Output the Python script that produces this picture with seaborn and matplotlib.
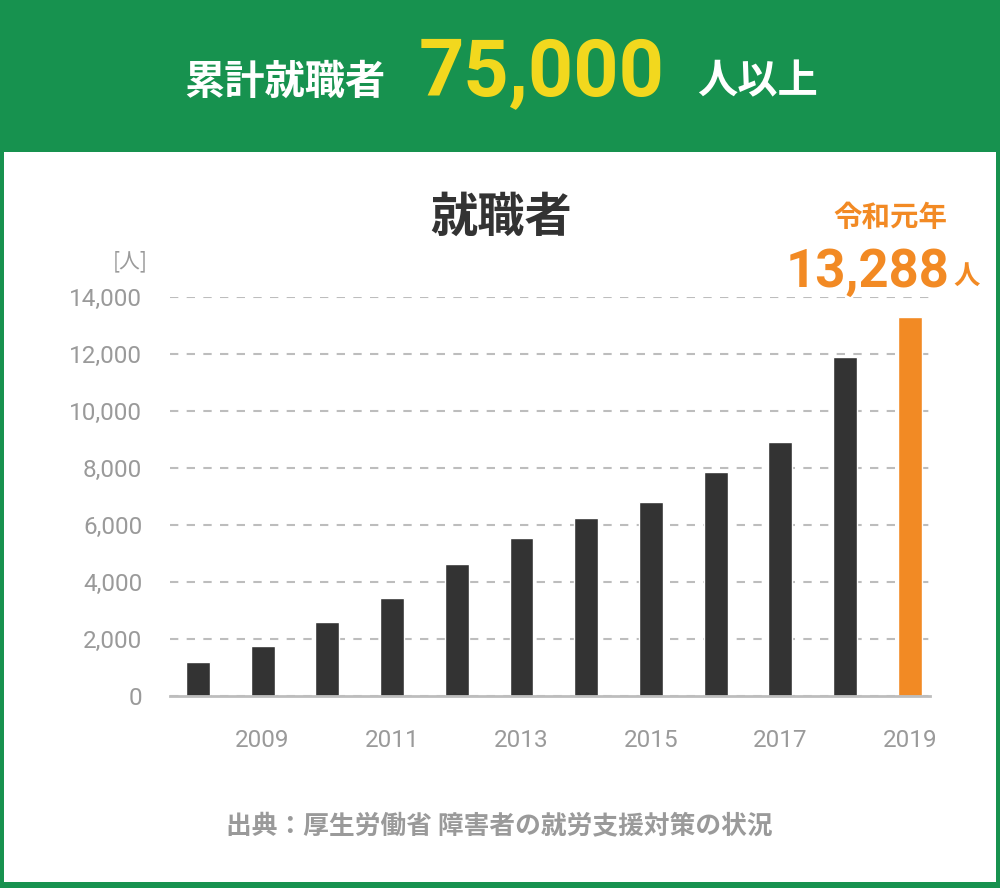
import matplotlib
matplotlib.use("Agg")
import matplotlib.pyplot as plt
import seaborn as sns
import pandas as pd
from matplotlib.patches import Rectangle
from matplotlib import font_manager

years = ["2008", "2009", "2010", "2011", "2012", "2013", "2014", "2015", "2016", "2017", "2018", "2019"]
values = [1190, 1750, 2600, 3440, 4630, 5550, 6250, 6810, 7860, 8920, 11900, 13288]
y_ticks = [0, 2000, 4000, 6000, 8000, 10000, 12000, 14000]
x_tick_labels = ["2009", "2011", "2013", "2015", "2017", "2019"]

sns.set_theme(style="white")
plt.rcParams['font.family'] = ['Noto Sans CJK JP', 'DejaVu Sans']

names = {f.name for f in font_manager.fontManager.ttflist}
if 'Liberation Sans Narrow' in names:
    narrow_family = ['Liberation Sans Narrow']
    narrow_tag = "LSN"
else:
    narrow_family = ['Roboto', 'DejaVu Sans']
    narrow_tag = "RB"

GREEN = "#17924F"
YELLOW = "#F2D81E"
ORANGE = "#F28A24"
DARK = "#333333"
GRAY = "#9A9A9A"
GRID = "#BDBDBD"

W, H = 1000, 888
fig = plt.figure(figsize=(W / 100, H / 100), dpi=100)
fig.patch.set_facecolor(GREEN)

def px(x, y):
    return x / W, 1 - y / H

# white panel
fig.patches.append(Rectangle(px(4, 882), (996 - 4) / W, (882 - 152) / H,
                             transform=fig.transFigure, facecolor="white",
                             edgecolor="none", zorder=-10))

ax = fig.add_axes([170 / W, 1 - 696 / H, 760 / W, (696 - 297) / H])
ax.set_facecolor("none")
ax.set_zorder(5)

df = pd.DataFrame({"year": years, "value": values})
palette = {y: DARK for y in years}
palette["2019"] = ORANGE
sns.barplot(data=df, x="year", y="value", hue="year", palette=palette,
            width=0.37, legend=False, ax=ax, saturation=1)

ax.set_xlim(-0.43, 11.31)
ax.set_ylim(0, 14000)
ax.set_yticks(y_ticks)
ax.set_yticklabels([f"{v:,}" for v in y_ticks])
ax.set_xticks([years.index(y) for y in x_tick_labels])
ax.set_xticklabels(x_tick_labels)
ax.set_xlabel("")
ax.set_ylabel("")
for sp in ["top", "right", "left"]:
    ax.spines[sp].set_visible(False)
ax.spines["bottom"].set_color(GRID)
ax.spines["bottom"].set_linewidth(2)
ax.grid(axis="y", color=GRID, linestyle=(0, (4, 4)), linewidth=1.5)
ax.grid(axis="x", visible=False)
ax.set_axisbelow(True)
ax.tick_params(axis="both", length=0)
ax.tick_params(axis="y", pad=20)
ax.tick_params(axis="x", pad=24)
for lab in ax.get_yticklabels() + ax.get_xticklabels():
    lab.set_family(narrow_family)
    lab.set_fontsize(20 if narrow_tag == "LSN" else 17.5)
    lab.set_color(GRAY)

# header
fig.text(*px(285, 82), "累計就職者", ha="center", va="center", color="white",
         fontsize=29, fontweight="bold")
fig.text(*px(542, 74), "75,000", ha="center", va="center", color=YELLOW,
         fontsize=64 if narrow_tag == "LSN" else 57, fontweight="bold", family=narrow_family)
fig.text(*px(757, 82), "人以上", ha="center", va="center", color="white",
         fontsize=29, fontweight="bold")

# chart title
fig.text(*px(501, 218), "就職者", ha="center", va="center", color=DARK,
         fontsize=34, fontweight="bold")
fig.text(*px(130, 261), "[人]", ha="center", va="center", color=GRAY,
         fontsize=15)

# highlight annotation
fig.text(*px(890, 218), "令和元年", ha="center", va="center", color=ORANGE,
         fontsize=20.5, fontweight="bold")
fig.text(*px(868, 272), "13,288", ha="center", va="center", color=ORANGE,
         fontsize=38, fontweight="bold", family=['Roboto', 'DejaVu Sans'])
fig.text(*px(967, 276), "人", ha="center", va="center", color=ORANGE,
         fontsize=19, fontweight="bold")

# source
fig.text(*px(499, 827), "出典：厚生労働省 障害者の就労支援対策の状況", ha="center", va="center",
         color=GRAY, fontsize=18.5, fontweight="bold")

fig.savefig("out.png", dpi=100, facecolor=fig.get_facecolor())
